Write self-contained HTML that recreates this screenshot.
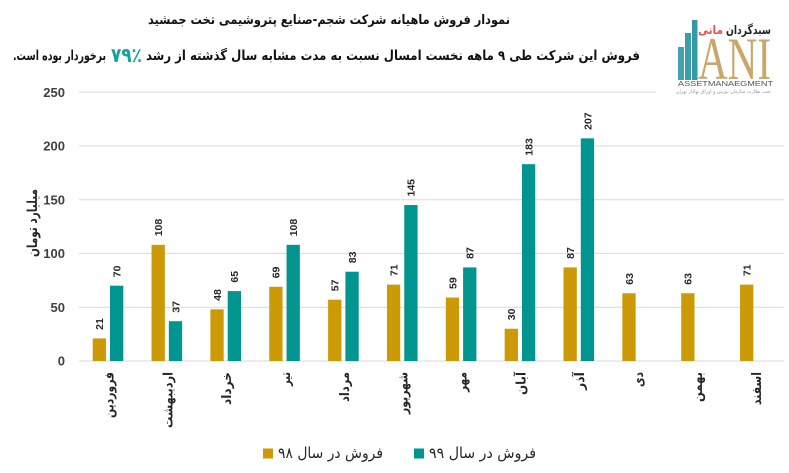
<!DOCTYPE html>
<html>
<head>
<meta charset="utf-8">
<style>
  html, body { margin:0; padding:0; background:#ffffff; }
  svg { display:block; }
  .ar { font-family: "DejaVu Sans", "Liberation Sans", sans-serif; }
  .num { font-family: "Liberation Sans", "DejaVu Sans", sans-serif; }
</style>
</head>
<body>
<svg width="789" height="473" viewBox="0 0 789 473" xmlns="http://www.w3.org/2000/svg">
  <rect x="0" y="0" width="789" height="473" fill="#ffffff"/>

  <!-- Title -->
  <text class="ar" x="329" y="24" text-anchor="middle" font-size="13" font-weight="bold" fill="#111" textLength="362" lengthAdjust="spacingAndGlyphs">نمودار فروش ماهیانه شرکت شجم-صنایع پتروشیمی تخت جمشید</text>

  <!-- Subtitle -->
  <text class="ar" x="640" y="60" text-anchor="end" font-size="13.5" font-weight="bold" fill="#111" textLength="494" lengthAdjust="spacingAndGlyphs">فروش این شرکت طی ۹ ماهه نخست امسال نسبت به مدت مشابه سال گذشته از رشد</text>
  <text class="ar" x="126.5" y="62" text-anchor="middle" font-size="20" font-weight="bold" fill="#14A39B" textLength="31" lengthAdjust="spacingAndGlyphs">۷۹٪</text>
  <text class="ar" x="106" y="60" text-anchor="end" font-size="13.5" font-weight="bold" fill="#111" textLength="93" lengthAdjust="spacingAndGlyphs">برخوردار بوده است.&#x200F;</text>

  <!-- Gridlines -->
  <g stroke="#d9d9d9" stroke-width="1">
    <line x1="79" y1="92.1" x2="656" y2="92.1"/>
    <line x1="79" y1="145.9" x2="784" y2="145.9"/>
    <line x1="79" y1="199.7" x2="784" y2="199.7"/>
    <line x1="79" y1="253.4" x2="784" y2="253.4"/>
    <line x1="79" y1="307.2" x2="784" y2="307.2"/>
    <line x1="79" y1="361" x2="784" y2="361"/>
  </g>

  <!-- Y tick labels -->
  <g class="num" font-size="13" font-weight="bold" fill="#404040" text-anchor="end">
    <text x="65" y="96.8">250</text>
    <text x="65" y="150.6">200</text>
    <text x="65" y="204.4">150</text>
    <text x="65" y="258.1">100</text>
    <text x="65" y="311.9">50</text>
    <text x="65" y="365.7">0</text>
  </g>

  <!-- Y axis title -->
  <text class="ar" transform="translate(37,223) rotate(-90)" text-anchor="middle" font-size="14" font-weight="bold" fill="#262626" textLength="68" lengthAdjust="spacingAndGlyphs">میلیارد تومان</text>

  <!-- Gold bars (98) -->
  <g fill="#CC9A06">
    <rect x="92.7" y="338.41" width="13.3" height="22.59"/>
    <rect x="151.55" y="244.84" width="13.3" height="116.16"/>
    <rect x="210.4" y="309.37" width="13.3" height="51.63"/>
    <rect x="269.25" y="286.78" width="13.3" height="74.22"/>
    <rect x="328.1" y="299.69" width="13.3" height="61.31"/>
    <rect x="386.95" y="284.63" width="13.3" height="76.37"/>
    <rect x="445.8" y="297.54" width="13.3" height="63.46"/>
    <rect x="504.65" y="328.73" width="13.3" height="32.27"/>
    <rect x="563.5" y="267.42" width="13.3" height="93.58"/>
    <rect x="622.35" y="293.24" width="13.3" height="67.76"/>
    <rect x="681.2" y="293.24" width="13.3" height="67.76"/>
    <rect x="740.05" y="284.63" width="13.3" height="76.37"/>
  </g>

  <!-- Teal bars (99) -->
  <g fill="#00958F">
    <rect x="110.0" y="285.71" width="13.3" height="75.29"/>
    <rect x="168.85" y="321.2" width="13.3" height="39.8"/>
    <rect x="227.7" y="291.09" width="13.3" height="69.91"/>
    <rect x="286.55" y="244.84" width="13.3" height="116.16"/>
    <rect x="345.4" y="271.73" width="13.3" height="89.27"/>
    <rect x="404.25" y="205.04" width="13.3" height="155.96"/>
    <rect x="463.1" y="267.42" width="13.3" height="93.58"/>
    <rect x="521.95" y="164.17" width="13.3" height="196.83"/>
    <rect x="580.8" y="138.35" width="13.3" height="222.65"/>
  </g>

  <!-- Value labels -->
  <g class="num" font-size="10.5" font-weight="bold" fill="#262626" text-anchor="start">
    <text transform="translate(103.15,329.9) rotate(-90)">21</text>
    <text transform="translate(162.0,236.3) rotate(-90)">108</text>
    <text transform="translate(220.85,300.9) rotate(-90)">48</text>
    <text transform="translate(279.7,278.3) rotate(-90)">69</text>
    <text transform="translate(338.55,291.2) rotate(-90)">57</text>
    <text transform="translate(397.4,276.1) rotate(-90)">71</text>
    <text transform="translate(456.25,289.0) rotate(-90)">59</text>
    <text transform="translate(515.1,320.2) rotate(-90)">30</text>
    <text transform="translate(573.95,258.9) rotate(-90)">87</text>
    <text transform="translate(632.8,284.7) rotate(-90)">63</text>
    <text transform="translate(691.65,284.7) rotate(-90)">63</text>
    <text transform="translate(750.5,276.1) rotate(-90)">71</text>

    <text transform="translate(120.45,277.2) rotate(-90)">70</text>
    <text transform="translate(179.3,312.7) rotate(-90)">37</text>
    <text transform="translate(238.15,282.6) rotate(-90)">65</text>
    <text transform="translate(297.0,236.3) rotate(-90)">108</text>
    <text transform="translate(355.85,263.2) rotate(-90)">83</text>
    <text transform="translate(414.7,196.5) rotate(-90)">145</text>
    <text transform="translate(473.55,258.9) rotate(-90)">87</text>
    <text transform="translate(532.4,155.7) rotate(-90)">183</text>
    <text transform="translate(591.25,129.9) rotate(-90)">207</text>
  </g>

  <!-- X category labels -->
  <g class="ar" font-size="13" font-weight="bold" fill="#262626" text-anchor="end">
    <text transform="translate(113.4,372) rotate(-90)" textLength="46" lengthAdjust="spacingAndGlyphs">فروردین</text>
    <text transform="translate(172.25,372) rotate(-90)" textLength="56" lengthAdjust="spacingAndGlyphs">اردیبهشت</text>
    <text transform="translate(231.1,372) rotate(-90)" textLength="33" lengthAdjust="spacingAndGlyphs">خرداد</text>
    <text transform="translate(289.95,372) rotate(-90)" textLength="14" lengthAdjust="spacingAndGlyphs">تیر</text>
    <text transform="translate(348.8,372) rotate(-90)" textLength="30" lengthAdjust="spacingAndGlyphs">مرداد</text>
    <text transform="translate(407.65,372) rotate(-90)" textLength="42" lengthAdjust="spacingAndGlyphs">شهریور</text>
    <text transform="translate(466.5,372) rotate(-90)" textLength="20" lengthAdjust="spacingAndGlyphs">مهر</text>
    <text transform="translate(525.35,372) rotate(-90)" textLength="23" lengthAdjust="spacingAndGlyphs">آبان</text>
    <text transform="translate(584.2,372) rotate(-90)" textLength="18" lengthAdjust="spacingAndGlyphs">آذر</text>
    <text transform="translate(643.05,372) rotate(-90)" textLength="15" lengthAdjust="spacingAndGlyphs">دی</text>
    <text transform="translate(701.9,372) rotate(-90)" textLength="30" lengthAdjust="spacingAndGlyphs">بهمن</text>
    <text transform="translate(760.75,372) rotate(-90)" textLength="33" lengthAdjust="spacingAndGlyphs">اسفند</text>
  </g>

  <!-- Legend -->
  <rect x="263" y="448.5" width="10" height="10" fill="#CC9A06"/>
  <text class="ar" x="383" y="458" text-anchor="end" font-size="15" fill="#262626" textLength="105" lengthAdjust="spacingAndGlyphs">فروش در سال ۹۸</text>
  <rect x="414" y="448.5" width="10" height="10" fill="#00958F"/>
  <text class="ar" x="536" y="458" text-anchor="end" font-size="15" fill="#262626" textLength="107" lengthAdjust="spacingAndGlyphs">فروش در سال ۹۹</text>

  <!-- Logo -->
  <rect x="657" y="0" width="132" height="98" fill="#ffffff"/>
  <rect x="678" y="47" width="6" height="33" fill="#3FA2AC"/>
  <rect x="685" y="33" width="6" height="47" fill="#3A9EA8"/>
  <rect x="692" y="20" width="5.5" height="60" fill="#3599A3"/>
  <text x="698" y="79" font-family="Liberation Serif, serif" font-size="60" fill="#C9A66B" textLength="73" lengthAdjust="spacingAndGlyphs">ANI</text>
  <text class="ar" x="771" y="34" text-anchor="end" font-size="12" font-weight="bold" fill="#222" textLength="45" lengthAdjust="spacingAndGlyphs">سبدگردان</text>
  <text class="ar" x="723" y="34" text-anchor="end" font-size="12" font-weight="bold" fill="#E0554C" textLength="25" lengthAdjust="spacingAndGlyphs">مانی</text>
  <text x="678" y="86" font-family="Liberation Sans, sans-serif" font-size="7.5" fill="#555" textLength="95" lengthAdjust="spacingAndGlyphs">ASSETMANAEGMENT</text>
  <text class="ar" x="771" y="93" text-anchor="end" font-size="5" fill="#9a9a9a" textLength="95" lengthAdjust="spacingAndGlyphs">تحت نظارت سازمان بورس و اوراق بهادار تهران</text>
</svg>
</body>
</html>
